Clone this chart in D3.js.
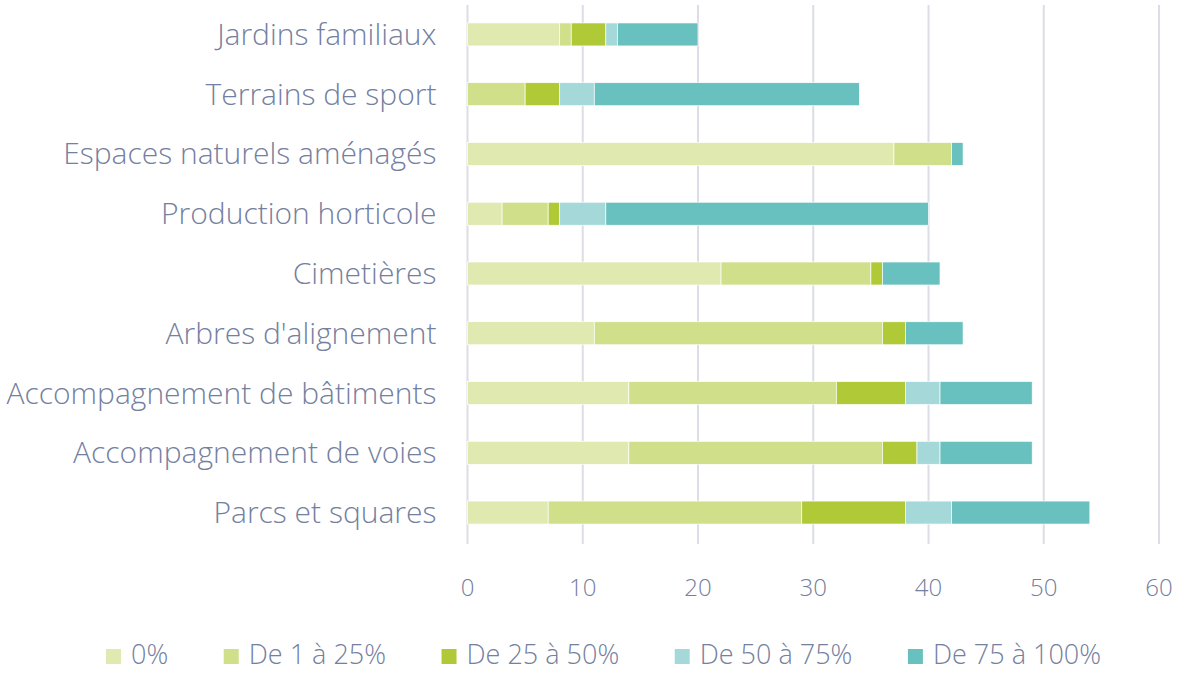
<!DOCTYPE html>
<html>
<head>
<meta charset="utf-8">
<script src="https://cdn.jsdelivr.net/npm/d3@7"></script>
<style>
  body { margin: 0; background: #fff; }
  text { font-family: "Open Sans", sans-serif; font-weight: 300; fill: #7480a0; }
</style>
</head>
<body>
<div id="chart"></div>
<script>
// categories, top to bottom
const categories = [
  "Jardins familiaux",
  "Terrains de sport",
  "Espaces naturels aménagés",
  "Production horticole",
  "Cimetières",
  "Arbres d'alignement",
  "Accompagnement de bâtiments",
  "Accompagnement de voies ",
  "Parcs et squares"
];
const seriesNames = ["0%", "De 1 à 25%", "De 25 à 50%", "De 50 à 75%", "De 75 à 100%"];
const s0 = [8, 0, 37, 3, 22, 11, 14, 14, 7];
const s1 = [1, 5, 5, 4, 13, 25, 18, 22, 22];
const s2 = [3, 3, 0, 1, 1, 2, 6, 3, 9];
const s3 = [1, 3, 0, 4, 0, 0, 3, 2, 4];
const s4 = [7, 23, 1, 28, 5, 5, 8, 8, 12];
const xTicks = [0, 10, 20, 30, 40, 50, 60];
const colors = ["#dfe9b0", "#cfdf8a", "#b0ca37", "#a5d9d9", "#68c1bf"];

const W = 1178, H = 674;
let margin = { top: 5, right: 19, bottom: 132, left: 467.5 };
let width = W - margin.left - margin.right,
  height = H - margin.top - margin.bottom;

let svg = d3.select("#chart").append("svg")
  .attr("width", W).attr("height", H);
let g = svg.append("g")
  .attr("transform", "translate(" + margin.left + "," + margin.top + ")");

let data = categories.map((c, i) => ({
  group: c, "0%": s0[i], "De 1 à 25%": s1[i], "De 25 à 50%": s2[i],
  "De 50 à 75%": s3[i], "De 75 à 100%": s4[i]
}));

let x = d3.scaleLinear().domain([0, 60]).range([0, width]);
let y = d3.scaleBand().domain(categories).range([0, height]).paddingInner(0.615).paddingOuter(0.3);
let color = d3.scaleOrdinal().domain(seriesNames).range(colors);

// gridlines
g.append("g")
  .selectAll("line")
  .data(xTicks)
  .enter().append("line")
  .attr("x1", d => x(d)).attr("x2", d => x(d))
  .attr("y1", 0).attr("y2", height + 2)
  .attr("stroke", "#dcdde6").attr("stroke-width", 2);

// x tick labels
g.append("g")
  .selectAll("text")
  .data(xTicks)
  .enter().append("text")
  .attr("x", d => x(d)).attr("y", height + 54)
  .attr("text-anchor", "middle")
  .style("font-size", "24px")
  .text(d => d);

// bars
let stacked = d3.stack().keys(seriesNames)(data);
g.append("g")
  .selectAll("g")
  .data(stacked)
  .enter().append("g")
  .attr("fill", d => color(d.key))
  .selectAll("rect")
  .data(d => d.filter(p => p[1] > p[0]))
  .enter().append("rect")
  .attr("x", d => x(d[0]))
  .attr("y", d => y(d.data.group))
  .attr("width", d => x(d[1]) - x(d[0]))
  .attr("height", y.bandwidth())
  .attr("stroke", "#fff").attr("stroke-width", 0.7);

// category labels
g.append("g")
  .selectAll("text")
  .data(categories)
  .enter().append("text")
  .attr("x", -31)
  .attr("y", d => y(d) + y.bandwidth() / 2)
  .attr("dy", "0.35em")
  .attr("text-anchor", "end")
  .style("font-size", "30px")
  .text(d => d);

// legend, spread between x=106 and x=1101 like the reference
let legend = svg.append("g").attr("transform", "translate(0,655)");
let items = legend.selectAll("g").data(seriesNames).enter().append("g");
items.append("rect")
  .attr("width", 15).attr("height", 15).attr("y", -6)
  .attr("fill", (d, i) => colors[i]);
items.append("text")
  .attr("x", 25).attr("dy", "0.35em")
  .style("font-size", "27px")
  .text(d => d);
let widths = [];
items.each(function () {
  widths.push(25 + this.querySelector("text").getComputedTextLength());
});
let gap = (995 - d3.sum(widths)) / (widths.length - 1);
let xOff = 106, starts = [];
widths.forEach(w => { starts.push(xOff); xOff += w + gap; });
items.attr("transform", (d, i) => "translate(" + starts[i] + ",0)");
</script>
</body>
</html>
